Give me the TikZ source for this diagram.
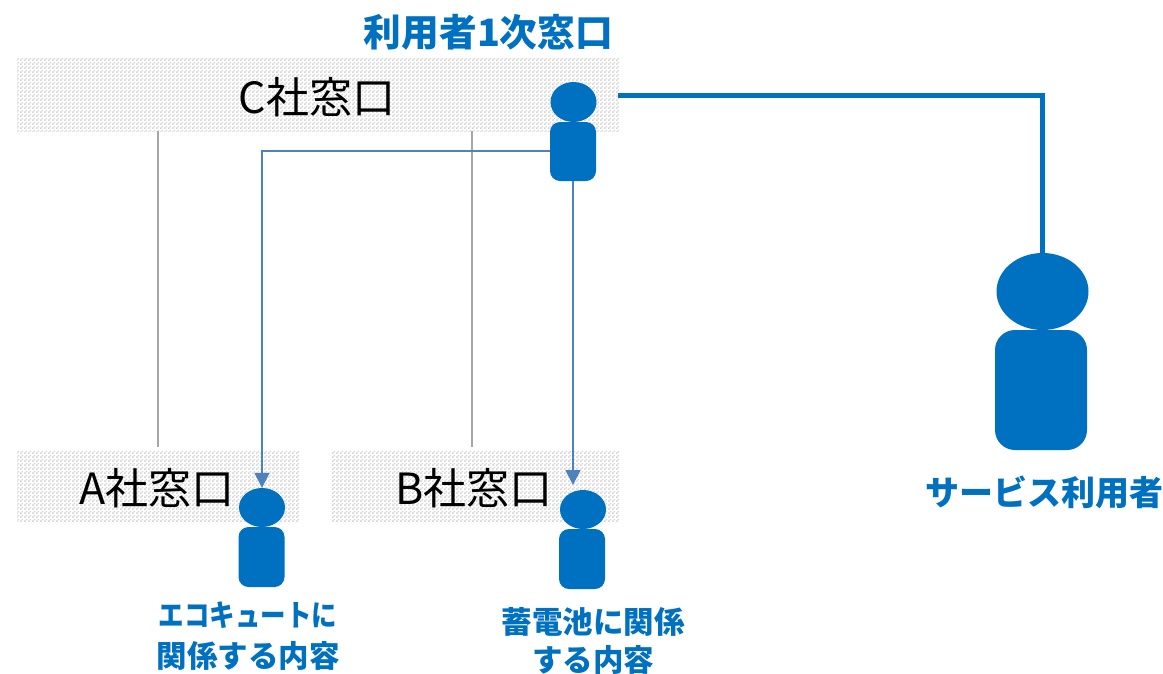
\documentclass[tikz,border=0pt]{standalone}
\usepackage{fontspec}
\usepackage{graphicx}
\setmainfont{Noto Sans CJK JP}
\usetikzlibrary{patterns,arrows.meta,positioning,shapes.geometric}
\definecolor{ublue}{HTML}{0070C0}
\definecolor{tline}{HTML}{4F81BD}
\definecolor{gline}{HTML}{A6A6A6}
\definecolor{dots}{HTML}{D6D6D6}
\pgfdeclarepatternformonly{chk}{\pgfqpoint{0pt}{0pt}}{\pgfqpoint{4pt}{4pt}}{\pgfqpoint{4pt}{4pt}}{%
  \pgfpathrectangle{\pgfqpoint{0pt}{0pt}}{\pgfqpoint{2pt}{2pt}}%
  \pgfpathrectangle{\pgfqpoint{2pt}{2pt}}{\pgfqpoint{2pt}{2pt}}%
  \pgfusepath{fill}}
\tikzset{
  box/.style={pattern=chk,pattern color=dots,draw=none,inner sep=0pt,anchor=north west},
  head/.style={ellipse,fill=ublue,draw=none,inner sep=0pt},
  body/.style={rectangle,fill=ublue,draw=none,inner sep=0pt,rounded corners=#1},
  cotext/.style={text=black,font=\fontsize{43}{43}\selectfont,inner sep=0pt},
  bluetext/.style={text=ublue,font=\bfseries\fontsize{#1}{#1}\selectfont,inner sep=0pt,align=center},
  thin link/.style={draw=tline,line width=1.7pt},
  gray link/.style={draw=gline,line width=1.7pt},
  thick link/.style={draw=ublue,line width=5pt},
  tip/.style={-{Triangle[length=15pt,width=15pt]}}
}
\begin{document}
\begin{tikzpicture}[x=1pt,y=-1pt]
\useasboundingbox (0,0) rectangle (1163,673);
% company boxes
\node[box,minimum width=602pt,minimum height=73pt] (cbox) at (17,58) {};
\node[box,minimum width=282pt,minimum height=72pt] (abox) at (17,450) {};
\node[box,minimum width=288pt,minimum height=72pt] (bbox) at (331,450) {};
% free ends of the grey lines
\coordinate (g1a) at (158,131);
\coordinate (g1b) at (158,447);
\coordinate (g2a) at (472,131);
\coordinate (g2b) at (472,447);
\draw[gray link] (g1a) -- (g1b);
\draw[gray link] (g2a) -- (g2b);
% persons
\node[head,minimum width=46pt,minimum height=40pt] (chead) at (573.5,102) {};
\node[body=10pt,minimum width=46pt,minimum height=59pt] (cbody) at (573,151.5) {};
\node[head,minimum width=92pt,minimum height=77pt] (uhead) at (1042.5,291.5) {};
\node[body=20pt,minimum width=92pt,minimum height=120pt] (ubody) at (1041,390) {};
\node[head,minimum width=46pt,minimum height=39pt] (ahead) at (262,507.5) {};
\node[body=10pt,minimum width=46pt,minimum height=60pt] (abody) at (261.5,557) {};
\node[head,minimum width=46pt,minimum height=39pt] (bhead) at (583,509.5) {};
\node[body=10pt,minimum width=46pt,minimum height=60pt] (bbody) at (582,559) {};
% connectors
\coordinate (cright) at (618,95);
\draw[thick link] (cright) -| (uhead.north);
\draw[thin link,tip] (cbody.west |- 0,151) -| (ahead.north);
\coordinate (bstop) at (573,485);
\draw[thin link,tip] (cbody.south -| bstop) -- (bstop);
% labels
\node[cotext] (ctext) at (317,97) {C社窓口};
\node[cotext] (atext) at (157,488) {A社窓口};
\node[cotext] (btext) at (474,488) {B社窓口};
\node[bluetext=37.7] (lab1) at (488.5,32) {利用者1次窓口};
\node[bluetext=34] (lab2) at (1044,492) {サービス利用者};
\node[bluetext=30] (lab3a) at (248,615) {\scalebox{0.85}[1]{エコキュートに}};
\node[bluetext=30.5] (lab3b) at (248,656) {関係する内容};
\node[bluetext=30.5] (lab4a) at (593,622) {蓄電池に関係};
\node[bluetext=30.5] (lab4b) at (593,660) {する内容};
\end{tikzpicture}
\end{document}
